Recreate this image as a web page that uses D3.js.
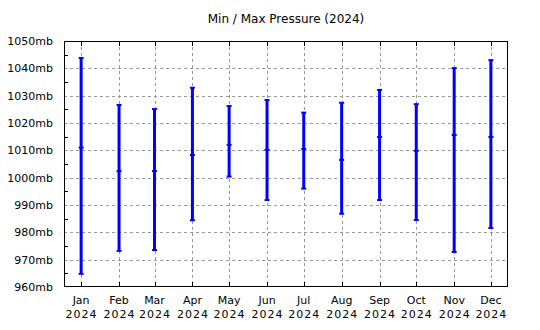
<!DOCTYPE html>
<html><head><meta charset="utf-8">
<script src="https://cdn.jsdelivr.net/npm/d3@7"></script>
<style>body{margin:0;background:#fff}svg{display:block}text{font-family:"DejaVu Sans",sans-serif;font-size:11px;fill:#000}</style>
</head><body><svg id="c" width="540" height="330"></svg>
<script>
const months = ["Jan","Feb","Mar","Apr","May","Jun","Jul","Aug","Sep","Oct","Nov","Dec"];
const maxP = [1043.8,1026.6,1025.1,1032.9,1026.2,1028.4,1023.8,1027.4,1032.1,1026.9,1040.1,1043.0];
const avgP = [1011.0,1002.4,1002.4,1008.3,1012.0,1010.2,1010.5,1006.5,1014.9,1009.8,1015.6,1014.9];
const minP = [964.8,973.2,973.5,984.4,1000.4,991.8,996.0,986.8,991.8,984.5,972.8,981.6];
const yTicks = [960,970,980,990,1000,1010,1020,1030,1040,1050];
const year = 2024;

const svg = d3.select("#c");
const L=64,R=508,T=41,B=287;
const dates = months.map((m,i)=>new Date(year,i,1));
const x = d3.scaleTime().domain([new Date(2023,11,18), new Date(2024,11,15)]).range([L,R]);
const y = d3.scaleLinear().domain([960,1050]).range([B,T]);

const g = svg.append("g");
// grid
g.selectAll(".hg").data(yTicks.slice(1,-1)).join("line")
 .attr("x1",L).attr("x2",R).attr("y1",d=>Math.round(y(d))+0.5).attr("y2",d=>Math.round(y(d))+0.5)
 .attr("stroke","#999").attr("stroke-dasharray","3,3");
g.selectAll(".vg").data(dates).join("line")
 .attr("x1",d=>Math.round(x(d))+0.5).attr("x2",d=>Math.round(x(d))+0.5).attr("y1",T).attr("y2",B)
 .attr("stroke","#999").attr("stroke-dasharray","3,3");
// minor y ticks
const minor = d3.range(965,1050,10);
g.selectAll(".mt").data(minor).join("line")
 .attr("x1",L).attr("x2",L+4).attr("y1",d=>Math.round(y(d))+0.5).attr("y2",d=>Math.round(y(d))+0.5).attr("stroke","#000");
// month ticks top and bottom
g.selectAll(".tt").data(dates).join("line")
 .attr("x1",d=>Math.round(x(d))+0.5).attr("x2",d=>Math.round(x(d))+0.5).attr("y1",T).attr("y2",T+5).attr("stroke","#000");
g.selectAll(".bt").data(dates).join("line")
 .attr("x1",d=>Math.round(x(d))+0.5).attr("x2",d=>Math.round(x(d))+0.5).attr("y1",B-5).attr("y2",B).attr("stroke","#000");
// frame
svg.append("rect").attr("x",L+0.5).attr("y",T+0.5).attr("width",R-L-1).attr("height",B-T-1)
 .attr("fill","none").attr("stroke","#000");

// y labels
svg.selectAll(".yl").data(yTicks).join("text")
 .attr("x",53).attr("y",d=>y(d)+4).attr("text-anchor","end").text(d=>d+"mb");
// x labels
const xl = svg.selectAll(".xl").data(dates).join("text").attr("text-anchor","middle");
xl.append("tspan").attr("x",d=>x(d)).attr("y",304).text((d,i)=>months[i]);
xl.append("tspan").attr("x",d=>x(d)+0.5).attr("y",318).attr("letter-spacing","1px").text(year);
// title
svg.append("text").attr("x",286).attr("y",23).attr("text-anchor","middle").style("font-size","12px").text("Min / Max Pressure (2024)");

// bars
const data = months.map((m,i)=>({d:dates[i],max:maxP[i],avg:avgP[i],min:minP[i]}));
const bars = svg.append("g").attr("stroke","#0000ff");
bars.selectAll(".v").data(data).join("line")
 .attr("x1",d=>x(d.d)).attr("x2",d=>x(d.d)).attr("y1",d=>y(d.max)).attr("y2",d=>y(d.min)).attr("stroke-width",3);
["max","avg","min"].forEach(k=>{
 bars.selectAll(".c"+k).data(data).join("line")
  .attr("x1",d=>x(d.d)-2.5).attr("x2",d=>x(d.d)+2.5).attr("y1",d=>y(d[k])).attr("y2",d=>y(d[k])).attr("stroke-width",2);
});
</script></body></html>
